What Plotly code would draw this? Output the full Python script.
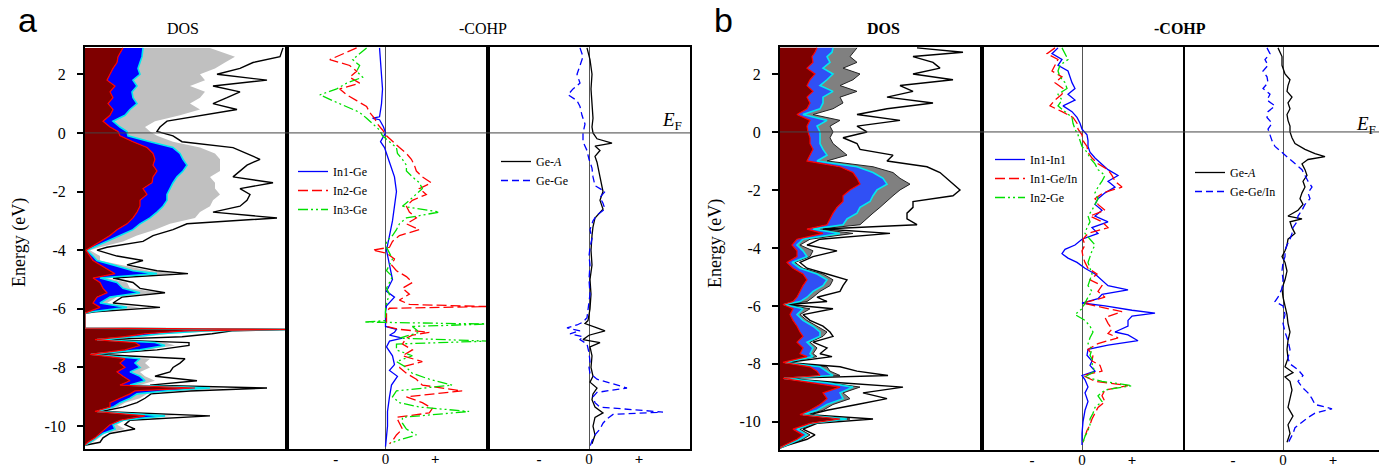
import plotly.graph_objects as go

W, H = 1379, 467

# ---------------- panel a : DOS (stacked, arbitrary units 0..202) ----------------
A_DOS_E = [2.9, 2.6, 2.4, 2.2, 2.0, 1.8, 1.6, 1.4, 1.2, 1.0, 0.8, 0.6, 0.4, 0.2, 0.05,
           -0.1, -0.3, -0.5, -0.7, -0.9, -1.1, -1.3, -1.5, -1.7, -1.9, -2.1, -2.3, -2.5,
           -2.7, -2.9, -3.1, -3.3, -3.5, -3.7, -3.9, -4.0, -4.2, -4.35, -4.5, -4.7, -4.8,
           -4.95, -5.1, -5.3, -5.45, -5.6, -5.8, -5.95, -6.1, -6.15, -6.66, -6.7, -6.75,
           -6.85, -6.95, -7.05, -7.15, -7.25, -7.4, -7.55, -7.7, -7.85, -8.0, -8.15, -8.3,
           -8.45, -8.6, -8.7, -8.8, -8.9, -9.05, -9.2, -9.35, -9.5, -9.65, -9.8, -9.95,
           -10.1, -10.25, -10.4, -10.55, -10.65]
A_DOS_IN = [38, 33, 32, 28, 25, 22, 30, 25, 28, 23, 28, 25, 18, 25, 33,
            35, 48, 62, 68, 70, 68, 72, 68, 67, 58, 62, 55, 55,
            52, 48, 42, 32, 25, 15, 5, 1, 5, 8, 15, 25, 30,
            8, 15, 18, 22, 12, 8, 15, 5, 0, 0, 205, 100,
            60, 40, 10, 50, 55, 40, 5, 40, 35, 40, 32, 38,
            45, 35, 110, 50, 45, 35, 25, 25, 10, 60, 35, 25,
            20, 15, 10, 3, 0]
A_DOS_GE = [58, 57, 55, 53, 55, 48, 52, 47, 48, 52, 45, 40, 28, 35, 42,
            43, 65, 88, 95, 98, 102, 98, 92, 88, 85, 82, 82, 78,
            72, 65, 55, 48, 35, 22, 10, 2, 8, 12, 28, 48, 72,
            15, 32, 38, 55, 25, 15, 42, 7, 0, 0, 205, 120,
            75, 50, 12, 70, 80, 55, 6, 55, 50, 55, 45, 55,
            60, 45, 125, 80, 52, 45, 35, 28, 12, 80, 38, 28,
            30, 18, 12, 5, 0]
A_DOS_A = [125, 150, 140, 130, 115, 120, 105, 120, 115, 105, 115, 95, 70, 60, 65,
           72, 88, 115, 130, 135, 135, 135, 125, 130, 130, 135, 128, 125,
           115, 110, 85, 70, 52, 38, 15, 5, 15, 15, 35, 65, 92,
           22, 42, 45, 75, 32, 22, 55, 8, 0, 0, 205, 135,
           85, 60, 14, 80, 90, 60, 8, 65, 60, 65, 55, 60,
           70, 55, 140, 95, 62, 55, 40, 33, 14, 90, 40, 32,
           40, 20, 14, 8, 0]
A_DOS_TOT = [198, 195, 168, 155, 132, 182, 128, 155, 142, 128, 152, 115, 82, 75, 72,
             88, 97, 148, 162, 175, 162, 155, 148, 188, 155, 165, 162, 155,
             128, 192, 102, 88, 68, 58, 22, 12, 32, 58, 42, 72, 103,
             28, 48, 55, 80, 37, 28, 75, 10, 0, 0, 205, 147,
             127, 97, 18, 104, 104, 72, 10, 100, 95, 88, 85, 70,
             112, 65, 182, 105, 66, 60, 52, 38, 16, 125, 45, 40,
             50, 25, 18, 15, 0]

# ---------------- panel a : -COHP (arbitrary units, 0 centred) ----------------
A_IN1GE_E = [2.9, 2.0, 1.5, 1.0, 0.55, 0.5, 0.45, 0.2, 0.0, -0.3, -0.5, -1.0, -1.5, -2.0,
             -2.5, -3.0, -3.5, -4.0, -4.5, -5.0, -5.4, -5.6, -5.9, -6.1, -6.6, -6.7, -6.8,
             -6.9, -7.0, -7.1, -7.3, -7.6, -7.9, -8.1, -8.3, -8.6, -9.0, -9.5, -10.0,
             -10.5, -10.7]
A_IN1GE = [-6, -4, -3, -4, -6, -13, -6, -2, 0, -5, -1, 4, 9, 11,
           9, 7, 4, 1, 4, 7, 1, 9, 1, 0, 0, 11, 9,
           4, 17, 4, 1, 7, 9, 4, 12, 6, 4, 2, 2,
           1, 0]
A_IN2GE_E = [2.9, 2.7, 2.5, 2.3, 2.1, 1.9, 1.7, 1.5, 1.3, 1.1, 0.9, 0.7, 0.5, 0.3, 0.1,
             -0.1, -0.3, -0.5, -0.7, -0.9, -1.1, -1.3, -1.5, -1.7, -1.9, -2.1, -2.3, -2.5,
             -2.7, -2.9, -3.1, -3.3, -3.5, -3.7, -3.9, -4.0, -4.1, -4.3, -4.5, -4.7, -4.9,
             -5.1, -5.3, -5.5, -5.7, -5.85, -5.92, -5.98, -6.1, -6.6, -6.7, -6.8, -6.9,
             -7.0, -7.2, -7.4, -7.6, -7.8, -8.0, -8.2, -8.4, -8.6, -8.8, -9.0, -9.2, -9.4,
             -9.55, -9.7, -9.9, -10.1, -10.3, -10.5, -10.6]
A_IN2GE = [-29, -43, -56, -36, -29, -36, -26, -46, -39, -29, -19, -16, -11, -8, -3,
           1, 7, 14, 21, 26, 29, 31, 37, 46, 34, 41, 27, 21,
           24, 31, 21, 34, 14, 7, 4, -13, 1, 9, 6, 11, 21,
           27, 17, 24, 14, 24, 102, 4, 1, 1, 14, 44, 27,
           21, 17, 27, 17, 37, 14, 21, 31, 37, 77, 21, 37, 47,
           44, 11, 14, 17, 11, 7, 4]
A_IN3GE_E = [2.9, 2.7, 2.5, 2.3, 2.1, 1.9, 1.7, 1.5, 1.3, 1.1, 0.9, 0.7, 0.5, 0.3, 0.1,
             -0.1, -0.3, -0.5, -0.7, -0.9, -1.1, -1.3, -1.5, -1.7, -1.9, -2.1, -2.3, -2.5,
             -2.7, -2.9, -3.1, -3.3, -3.5, -3.7, -3.9, -4.1, -4.3, -4.5, -4.7, -4.9, -5.1,
             -5.3, -5.5, -5.7, -6.0, -6.4, -6.45, -6.52, -6.6, -6.8, -7.0, -7.1, -7.2,
             -7.4, -7.6, -7.8, -8.0, -8.2, -8.4, -8.6, -8.8, -9.0, -9.2, -9.35, -9.5,
             -9.7, -9.9, -10.1, -10.3, -10.5, -10.6]
A_IN3GE = [-19, -26, -33, -26, -29, -23, -39, -49, -66, -53, -39, -26, -19, -13, -6,
           -3, 4, 11, 12, 17, 21, 21, 27, 34, 37, 31, 24, 17,
           54, 21, 14, 11, 7, 1, 1, 4, 7, 4, 1, 7, 4,
           1, 4, 2, 0, 0, -21, 103, 27, 34, 14, 103, 11,
           11, 27, 11, 21, 27, 44, 67, 11, 7, 14, 34, 84,
           17, 17, 21, 31, 11, 5]
A_GEA_E = [2.9, 2.5, 2.0, 1.5, 1.0, 0.5, 0.2, 0.0, -0.2, -0.35, -0.45, -0.6, -0.8, -1.0,
           -1.5, -2.0, -2.3, -2.6, -2.9, -3.2, -3.5, -4.0, -4.5, -5.0, -5.5, -6.0, -6.4,
           -6.5, -6.65, -6.75, -6.9, -7.05, -7.15, -7.3, -7.6, -8.0, -8.3, -8.5, -8.7,
           -8.9, -9.1, -9.35, -9.55, -9.7, -10.0, -10.3, -10.6]
A_GEA = [-2, 1, 3, 2, 3, 4, 3, 4, 8, 23, 6, 11, 6, 8,
         11, 14, 11, 14, 6, 4, 3, 2, 3, 1, 2, 1, -1,
         -4, 8, 16, 0, -6, 11, 1, 3, 2, 4, 1, 8,
         4, 3, 6, 14, 6, 4, 6, 3]
A_GEGE_E = [2.9, 2.6, 2.3, 2.0, 1.7, 1.5, 1.3, 1.1, 0.9, 0.6, 0.3, 0.0, -0.3, -0.6, -0.9,
            -1.2, -1.5, -1.8, -2.0, -2.2, -2.4, -2.6, -2.8, -3.0, -3.3, -3.6, -3.9, -4.2,
            -4.5, -5.0, -5.5, -6.0, -6.3, -6.45, -6.55, -6.65, -6.75, -6.85, -6.95, -7.05,
            -7.2, -7.5, -7.8, -8.0, -8.2, -8.4, -8.55, -8.7, -8.85, -9.0, -9.2, -9.35,
            -9.52, -9.6, -9.75, -9.9, -10.1, -10.3, -10.5, -10.7]
A_GEGE = [-9, -6, -9, -12, -9, -16, -21, -12, -9, -7, -4, -6, -6, -2, 0,
          3, 4, 6, 16, 11, 14, 16, 8, 4, 1, 3, 1, 0,
          1, 0, 1, -1, -2, -6, -12, -22, -9, -19, -6, -9,
          -2, 0, 1, 0, 1, 8, 24, 38, 8, 4, 6, 11,
          74, 24, 18, 14, 11, 6, 3, 1]

# ---------------- panel b : DOS ----------------
B_DOS_E = [2.9, 2.75, 2.6, 2.4, 2.2, 2.0, 1.8, 1.6, 1.4, 1.2, 1.0, 0.8, 0.6, 0.4, 0.2,
           0.0, -0.2, -0.4, -0.6, -0.8, -1.0, -1.2, -1.4, -1.6, -1.8, -2.0, -2.2, -2.4,
           -2.6, -2.8, -3.0, -3.2, -3.35, -3.5, -3.7, -3.9, -4.1, -4.3, -4.5, -4.7, -4.9,
           -5.1, -5.3, -5.5, -5.7, -5.85, -5.95, -6.1, -6.3, -6.5, -6.7, -6.9, -7.05,
           -7.25, -7.45, -7.65, -7.75, -7.95, -8.1, -8.25, -8.4, -8.5, -8.65, -8.8, -9.0,
           -9.2, -9.4, -9.6, -9.75, -9.9, -10.05, -10.25, -10.45, -10.6, -10.8, -10.9]
B_DOS_IN = [37, 35, 32, 33, 27, 35, 30, 27, 33, 27, 30, 27, 17, 30, 27,
            28, 30, 30, 33, 30, 27, 60, 73, 77, 80, 70, 63, 63,
            57, 53, 50, 47, 27, 43, 17, 12, 17, 17, 7, 13, 23,
            27, 23, 20, 17, 13, 3, 13, 10, 13, 17, 20, 23,
            17, 23, 20, 27, 3, 30, 37, 40, 3, 33, 60, 43,
            47, 40, 30, 20, 60, 30, 13, 23, 17, 5, 0]
B_DOS_GE = [53, 52, 47, 50, 43, 53, 47, 40, 53, 43, 43, 40, 23, 47, 37,
            40, 40, 40, 43, 47, 37, 77, 93, 103, 107, 97, 93, 90,
            80, 77, 67, 63, 33, 60, 23, 17, 23, 27, 12, 20, 37,
            47, 43, 33, 27, 20, 4, 23, 17, 23, 33, 40, 40,
            27, 33, 30, 33, 5, 40, 47, 53, 4, 47, 73, 60,
            63, 47, 37, 23, 67, 33, 17, 27, 20, 7, 0]
B_DOS_A = [77, 73, 70, 77, 63, 80, 73, 60, 77, 60, 63, 53, 33, 60, 50,
           53, 50, 53, 60, 67, 47, 93, 113, 120, 130, 120, 113, 107,
           100, 93, 87, 80, 40, 73, 30, 20, 33, 30, 15, 23, 43,
           53, 50, 40, 33, 27, 5, 30, 20, 27, 37, 47, 43,
           30, 37, 33, 37, 6, 47, 50, 60, 5, 50, 80, 63,
           70, 53, 43, 27, 70, 35, 20, 30, 23, 7, 0]
B_DOS_TOT = [137, 183, 133, 153, 160, 133, 173, 120, 133, 107, 153, 107, 77, 120, 77,
             87, 63, 77, 80, 113, 107, 147, 160, 167, 173, 180, 173, 133,
             133, 127, 127, 137, 43, 110, 40, 27, 57, 33, 20, 27, 47,
             67, 63, 60, 37, 47, 8, 53, 23, 30, 43, 50, 53,
             33, 47, 40, 52, 7, 60, 77, 108, 6, 60, 123, 83,
             107, 77, 47, 30, 93, 37, 23, 35, 27, 8, 0]

# ---------------- panel b : -COHP ----------------
B_GRID_E = [2.9, 2.7, 2.5, 2.3, 2.1, 1.9, 1.7, 1.5, 1.3, 1.1, 0.9, 0.7, 0.5, 0.3, 0.1,
            -0.1, -0.3, -0.5, -0.7, -0.9, -1.1, -1.3, -1.5, -1.7, -1.9, -2.1, -2.3, -2.5,
            -2.7, -2.9, -3.1, -3.3, -3.5, -3.7]
B_IN1IN1_E = B_GRID_E + [-3.9, -4.05, -4.2, -4.35, -4.5, -4.7, -4.9, -5.1, -5.3, -5.45,
                         -5.6, -5.75, -5.9, -6.0, -6.15, -6.25, -6.35, -6.5, -6.7, -6.9,
                         -7.0, -7.2, -7.35, -7.5, -7.7, -7.9, -8.05, -8.25, -8.4, -8.55,
                         -8.8, -9.0, -9.3, -9.6, -10.0, -10.4, -10.8]
B_IN1IN1 = [-24, -30, -20, -24, -14, -12, -10, -7, -14, -7, -19, -10, -5, -2, 0,
            5, 6, 6, 8, 13, 20, 26, 36, 26, 33, 23, 16, 13,
            20, 13, 26, 10, 16, 0,
            -7, -17, -20, -14, -5, 3, 13, 20, 26, 46,
            20, 16, 0, 23, 50, 73, 50, 46, 46, 33,
            46, 56, 26, 6, 5, 10, 8, 13, 0, 3,
            6, 3, 6, 3, 1, 0, 0]
B_IN1GEIN_E = B_GRID_E + [-3.9, -4.1, -4.3, -4.5, -4.7, -4.9, -5.1, -5.3, -5.5, -5.7,
                          -5.9, -6.05, -6.2, -6.4, -6.6, -6.8, -6.95, -7.1, -7.3, -7.5,
                          -7.7, -7.9, -8.05, -8.25, -8.4, -8.6, -8.75, -8.9, -9.1, -9.3,
                          -9.5, -9.7, -9.9, -10.1, -10.3, -10.5, -10.7]
B_IN1GEIN = [-27, -35, -24, -27, -30, -20, -27, -19, -20, -27, -32, -20, -9, -5, -4,
             0, 1, 5, 6, 10, 16, 26, 30, 33, 40, 21, 13, 16,
             23, 8, 20, 26, 6, 1,
             3, 0, 1, 3, 6, 15, 8, 20, 16, 23,
             1, 20, 40, 23, 26, 30, 26, 36, 16, 6,
             11, 10, 18, 20, 1, 13, 46, 23, 20, 23,
             16, 13, 10, 8, 5, 3, 1]
B_IN2GE_E = B_GRID_E + [-3.9, -4.1, -4.3, -4.5, -4.7, -4.9, -5.1, -5.3, -5.5, -5.7,
                        -5.9, -6.1, -6.3, -6.5, -6.7, -6.9, -7.1, -7.3, -7.5, -7.7,
                        -7.9, -8.05, -8.25, -8.45, -8.6, -8.75, -8.9, -9.1, -9.3, -9.5,
                        -9.7, -9.9, -10.1, -10.3, -10.5, -10.7]
B_IN2GE = [-20, -17, -14, -22, -24, -22, -17, -15, -24, -20, -24, -17, -10, -9, -7,
           -4, -2, 0, 5, 8, 13, 16, 23, 20, 16, 13, 16, 13,
           10, 6, 8, 5, 3, 8,
           13, 10, 8, 6, 8, 10, 8, 6, 10, 6,
           3, 0, -7, 3, 8, 11, 8, 6, 10, 8,
           11, 10, 13, 3, 20, 50, 23, 16, 20, 13,
           11, 8, 8, 6, 3, 1]
B_GEA_E = [2.9, 2.6, 2.3, 2.0, 1.8, 1.6, 1.4, 1.2, 1.0, 0.8, 0.6, 0.4, 0.2, 0.0, -0.2,
           -0.4, -0.6, -0.75, -0.85, -0.95, -1.1, -1.3, -1.5, -1.7, -1.9, -2.1, -2.3,
           -2.5, -2.7, -2.9, -3.0, -3.1, -3.3, -3.5, -3.7, -3.9, -4.1, -4.3, -4.5, -4.8,
           -5.1, -5.4, -5.7, -6.0, -6.3, -6.6, -6.9, -7.2, -7.5, -7.8, -8.1, -8.3, -8.45,
           -8.6, -8.9, -9.2, -9.5, -9.8, -10.1, -10.4, -10.7]
B_GEA = [-5, -1, -1, 2, 7, 5, 4, 9, 5, 7, 4, 5, 7, 7, 9,
         12, 22, 32, 42, 25, 19, 22, 24, 20, 22, 19, 17,
         20, 15, 5, 19, 7, 9, 12, 5, 4, 2, -1, 2, 4,
         2, -1, 0, 2, 4, 5, 7, 5, 4, 5, 2, 10, 2,
         7, 9, 7, 5, 10, 5, 7, 4]
B_GEGE_E = B_GRID_E + [-3.9, -4.1, -4.3, -4.5, -4.8, -5.1, -5.4, -5.7, -5.85, -6.0,
                       -6.3, -6.6, -6.9, -7.2, -7.5, -7.8, -8.0, -8.2, -8.4, -8.6,
                       -8.8, -9.0, -9.2, -9.4, -9.55, -9.7, -9.85, -10.0, -10.2, -10.4,
                       -10.6, -10.8]
B_GEGE = [-16, -13, -18, -15, -20, -16, -15, -20, -13, -16, -8, -15, -16, -11, -15,
          -13, -11, -8, -1, 5, 12, 19, 22, 25, 29, 25, 27, 22,
          19, 15, 14, 10, 9, 7,
          4, 2, 2, 0, -1, 0, -1, -5, -8, 0,
          2, 0, 2, 5, 7, 5, 7, 15, 20, 15,
          19, 25, 29, 32, 49, 32, 25, 19, 12, 10,
          7, 4]

TICK_E = [2, 0, -2, -4, -6, -8, -10]
TICK_E_TEXT = ["2", "0", "-2", "-4", "-6", "-8", "-10"]
TICK_COHP = [-50, 0, 50]
TICK_COHP_TEXT = ["<b>-</b>", "0", "<b>+</b>"]

for xs, ys in [(A_DOS_IN, A_DOS_E), (A_DOS_GE, A_DOS_E), (A_DOS_A, A_DOS_E), (A_DOS_TOT, A_DOS_E),
               (B_DOS_IN, B_DOS_E), (B_DOS_GE, B_DOS_E), (B_DOS_A, B_DOS_E), (B_DOS_TOT, B_DOS_E),
               (A_IN1GE, A_IN1GE_E), (A_IN2GE, A_IN2GE_E), (A_IN3GE, A_IN3GE_E),
               (A_GEA, A_GEA_E), (A_GEGE, A_GEGE_E), (B_IN1IN1, B_IN1IN1_E),
               (B_IN1GEIN, B_IN1GEIN_E), (B_IN2GE, B_IN2GE_E), (B_GEA, B_GEA_E), (B_GEGE, B_GEGE_E)]:
    assert len(xs) == len(ys), (len(xs), len(ys))

SERIF = "Liberation Serif"
SANS = "Liberation Sans"
MAROON = "#7f0000"


def px(x):
    return x / W


def py(y):
    return 1 - y / H


fig = go.Figure()


def add_dos(xa, ya, E, d_in, d_ge, d_a, d_tot, blue, gray, gray_line):
    kw = dict(xaxis=xa, yaxis=ya, mode="lines", showlegend=False, hoverinfo="skip")
    fig.add_trace(go.Scatter(x=d_in, y=E, fill="tozerox", fillcolor=MAROON, line=dict(width=0), **kw))
    fig.add_trace(go.Scatter(x=d_ge, y=E, fill="tonextx", fillcolor=blue, line=dict(width=0), **kw))
    fig.add_trace(go.Scatter(x=d_a, y=E, fill="tonextx", fillcolor=gray, line=dict(width=gray_line, color="#222"), **kw))
    fig.add_trace(go.Scatter(x=d_tot, y=E, line=dict(color="black", width=1.4), **kw))
    fig.add_trace(go.Scatter(x=d_ge, y=E, line=dict(color="#00e8f0", width=1.6), **kw))
    fig.add_trace(go.Scatter(x=d_in, y=E, line=dict(color="#ff0000", width=1.2), **kw))


add_dos("x", "y", A_DOS_E, A_DOS_IN, A_DOS_GE, A_DOS_A, A_DOS_TOT, "#0000ff", "#c0c0c0", 0)
add_dos("x4", "y4", B_DOS_E, B_DOS_IN, B_DOS_GE, B_DOS_A, B_DOS_TOT, "#3050f5", "#808080", 1)

DASH_RED = "10px,4px"
DASH_GREEN = "10px,3px,2px,3px,2px,3px"
DASH_BLUE = "7px,4px"


def cohp(x, y, name, xa, ya, color, dash, legend):
    fig.add_trace(go.Scatter(x=x, y=y, name=name, xaxis=xa, yaxis=ya, mode="lines",
                             line=dict(color=color, width=1.3, dash=dash), legend=legend,
                             hoverinfo="skip"))


cohp(A_IN1GE, A_IN1GE_E, "In1-Ge", "x2", "y2", "#0000ff", "solid", "legend")
cohp(A_IN2GE, A_IN2GE_E, "In2-Ge", "x2", "y2", "#ff0000", DASH_RED, "legend")
cohp(A_IN3GE, A_IN3GE_E, "In3-Ge", "x2", "y2", "#00e000", DASH_GREEN, "legend")
cohp(A_GEA, A_GEA_E, "Ge-<i>A</i>", "x3", "y3", "black", "solid", "legend2")
cohp(A_GEGE, A_GEGE_E, "Ge-Ge", "x3", "y3", "#0000ff", DASH_BLUE, "legend2")
cohp(B_IN1IN1, B_IN1IN1_E, "In1-In1", "x5", "y5", "#0000ff", "solid", "legend3")
cohp(B_IN1GEIN, B_IN1GEIN_E, "In1-Ge/In", "x5", "y5", "#ff0000", DASH_RED, "legend3")
cohp(B_IN2GE, B_IN2GE_E, "In2-Ge", "x5", "y5", "#00e000", DASH_GREEN, "legend3")
cohp(B_GEA, B_GEA_E, "Ge-<i>A</i>", "x6", "y6", "black", "solid", "legend4")
cohp(B_GEGE, B_GEGE_E, "Ge-Ge/In", "x6", "y6", "#0000ff", DASH_BLUE, "legend4")

# ---------------- axes ----------------
A_Y = [py(449), py(47)]
B_Y = [py(450), py(47)]
A_RANGE = [-10.78, 2.93]
B_RANGE = [-10.97, 2.93]
frame = dict(showline=True, mirror=True, linecolor="black", linewidth=2, showgrid=False,
             automargin=False, fixedrange=True)

xspec = {
    "xaxis": ([85, 287], [0, 202], False),
    "xaxis2": ([287, 488], [-99, 103], True),
    "xaxis3": ([488, 690], [-101, 101], True),
    "xaxis4": ([780, 982], [0, 202], False),
    "xaxis5": ([982, 1183], [-100, 101], True),
    "xaxis6": ([1183, 1379], [-100, 96], True),
}
for i, (key, (dom, rng, is_cohp)) in enumerate(xspec.items(), start=1):
    yname = "y" if i == 1 else f"y{i}"
    ax = dict(domain=[px(dom[0]), px(dom[1])], range=rng, anchor=yname, ticks="", **frame)
    if is_cohp:
        ax.update(tickvals=TICK_COHP, ticktext=TICK_COHP_TEXT, ticklabelstandoff=-5,
                  tickfont=dict(family=SERIF, size=15, color="black"),
                  zeroline=True, zerolinecolor="#555", zerolinewidth=1)
    else:
        ax.update(showticklabels=False, zeroline=False)
    fig.layout[key] = ax

    xname = "x" if i == 1 else f"x{i}"
    ykey = "yaxis" if i == 1 else f"yaxis{i}"
    yax = dict(domain=A_Y if i <= 3 else B_Y, range=A_RANGE if i <= 3 else B_RANGE,
               anchor=xname, zeroline=False, **frame)
    if i in (1, 4):
        yax.update(tickvals=TICK_E, ticktext=TICK_E_TEXT, ticks="outside", ticklen=6,
                   tickwidth=1.5, tickcolor="black", ticklabelstandoff=8,
                   tickfont=dict(family=SERIF, size=16, color="black"))
    else:
        yax.update(showticklabels=False, ticks="")
    if i == 6:
        yax.update(showline=False)
    fig.layout[ykey] = yax

# Fermi level
shapes = [
    dict(type="line", xref="paper", yref="y", x0=px(85), x1=px(690), y0=0, y1=0,
         line=dict(color="#444", width=1)),
    dict(type="line", xref="paper", yref="y4", x0=px(780), x1=1, y0=0, y1=0,
         line=dict(color="#444", width=1)),
]
fig.update_layout(shapes=shapes)

ann = []


def label(text, x, y, size, family=SERIF, xanchor="center", **extra):
    ann.append(dict(text=text, x=px(x), y=py(y), xref="paper", yref="paper", showarrow=False,
                    xanchor=xanchor, yanchor="middle",
                    font=dict(family=family, size=size, color="black"), **extra))


label("a", 27, 20, 34, family=SANS)
label("b", 723, 20, 34, family=SANS)
label("DOS", 183, 28, 16)
label("-COHP", 483, 28, 16)
label("<b>DOS</b>", 883, 28, 16)
label("<b>-COHP</b>", 1180, 28, 16)
label("Energy (eV)", 19, 243, 18, textangle=-90)
label("Energy (eV)", 715, 243, 18, textangle=-90)
label("<i>E</i><sub>F</sub>", 684, 121, 19, xanchor="right")
label("<i>E</i><sub>F</sub>", 1378, 125, 19, xanchor="right")
fig.update_layout(annotations=ann)

leg = dict(bgcolor="rgba(0,0,0,0)", borderwidth=0, xanchor="left", yanchor="top",
           font=dict(family=SERIF, size=12, color="black"), tracegroupgap=0,
           traceorder="normal")
fig.update_layout(
    legend=dict(x=px(293), y=py(157), **leg),
    legend2=dict(x=px(496), y=py(147), **leg),
    legend3=dict(x=px(990), y=py(145), **leg),
    legend4=dict(x=px(1190), y=py(158), **leg),
)

fig.update_layout(width=W, height=H, margin=dict(l=0, r=0, t=0, b=0),
                  paper_bgcolor="white", plot_bgcolor="white", showlegend=True)

# the page's default 8px body margin would push the figure off the window
fig.write_html("out.html", config={"displayModeBar": False},
               post_script="document.body.style.margin='0';"
                           "document.body.style.overflow='hidden';")
